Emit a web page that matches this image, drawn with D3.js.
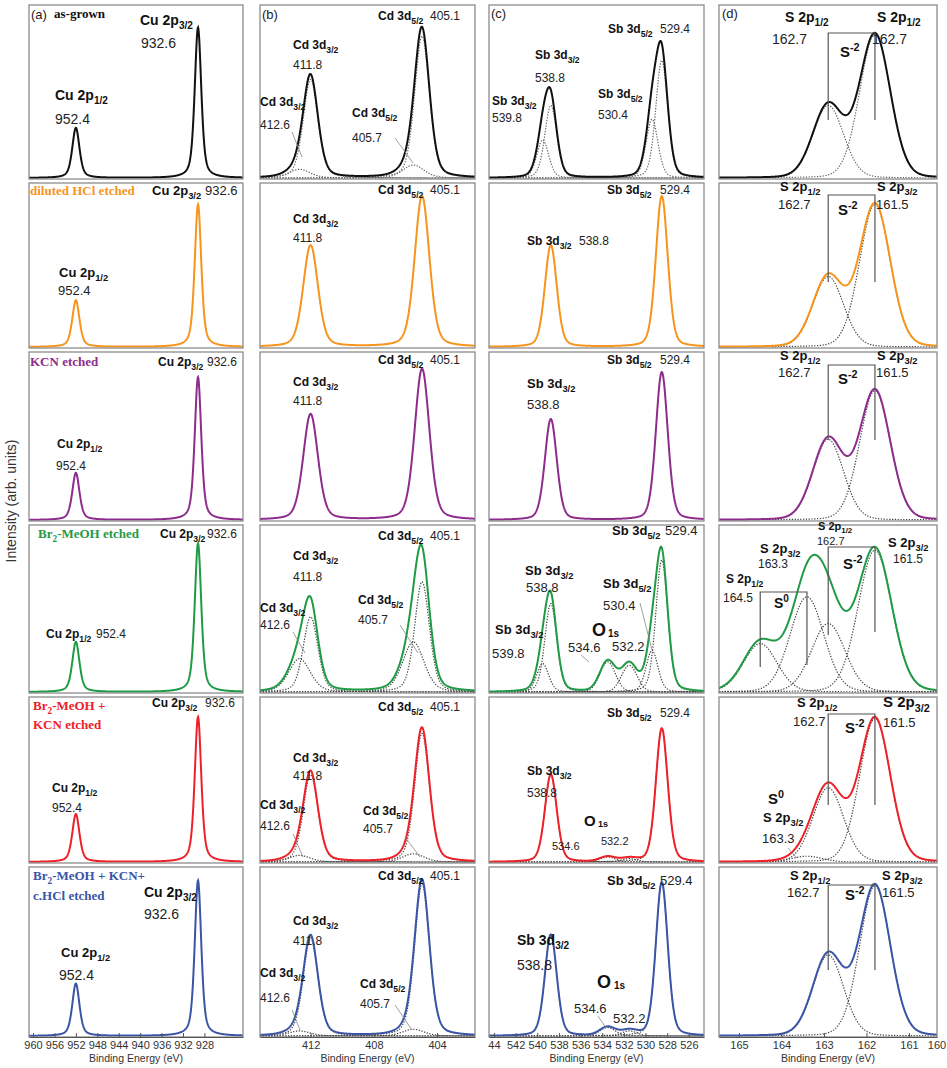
<!DOCTYPE html>
<html>
<head>
<meta charset="utf-8">
<script src="https://cdn.jsdelivr.net/npm/d3@7"></script>
<style>
  body { margin: 0; background: #fff; }
</style>
</head>
<body>
<script>
// treatments, one row each
var rowNames = ["as-grown", "diluted HCl etched", "KCN etched", "Br2-MeOH etched", "Br2-MeOH + KCN etched", "Br2-MeOH + KCN+ c.HCl etched"];
var rowColours = ["#111111", "#F7941D", "#8E2C8E", "#1F9A45", "#EE2028", "#3A55A6"];

// (a) Cu 2p : peak centres (eV, as read on the axis), FWHM, heights per row
var cuCentres = [952.0, 929.2];
var cuWidths = [1.6, 1.45];
var cu2p12 = [0.29, 0.285, 0.28, 0.30, 0.29, 0.31];
var cu2p32 = [0.87, 0.87, 0.85, 0.89, 0.88, 0.92];

// (b) Cd 3d : 411.8 / 412.6 / 405.1 / 405.7 components
var cdCentres = [412.0, 412.7, 404.95, 405.5];
var cdWidths = [1.1, 1.6, 1.1, 1.6];
var cd3d32 = [0.57, 0.62, 0.63, 0.45, 0.53, 0.58];
var cd3d32b = [0.05, 0, 0, 0.20, 0.04, 0.03];
var cd3d52 = [0.82, 0.92, 0.90, 0.66, 0.78, 0.90];
var cd3d52b = [0.075, 0, 0, 0.30, 0.05, 0.04];

// (c) Sb 3d + O 1s : 539.8 / 538.8 / 534.6 / 532.2 / 530.4 / 529.4 components
var sbCentres = [539.5, 538.75, 533.5, 531.5, 529.4, 528.5];
var sbWidths = [1.3, 1.3, 1.7, 1.7, 1.3, 1.3];
var sb3d32b = [0.22, 0, 0, 0.17, 0, 0];
var sb3d32 = [0.42, 0.62, 0.60, 0.53, 0.53, 0.60];
var o1sA = [0, 0, 0, 0.18, 0.03, 0.05];
var o1sB = [0, 0, 0, 0.16, 0.02, 0.03];
var sb3d52b = [0.34, 0, 0, 0.25, 0, 0];
var sb3d52 = [0.68, 0.92, 0.88, 0.79, 0.81, 0.91];

// (d) S 2p : S0 2p1/2, S0 2p3/2, S-2 2p1/2, S-2 2p3/2
var sCentres = [164.5, 163.4, 162.9, 161.8];
var sWidths = [0.85, 0.85, 0.85, 0.85];
var sRowWidth = [1.0, 1.0, 1.0, 1.1, 1.0, 1.0];
var s0p12 = [0, 0, 0, 0.29, 0, 0];
var s0p32 = [0, 0, 0, 0.57, 0.035, 0];
var s2p12 = [0.42, 0.43, 0.48, 0.41, 0.45, 0.48];
var s2p32 = [0.83, 0.87, 0.77, 0.85, 0.87, 0.89];

var columns = [
  { centres: cuCentres, widths: cuWidths, eta: [0.5, 0.5], heights: [cu2p12, cu2p32], fitRows: [0, 0, 0, 0, 0, 0] },
  { centres: cdCentres, widths: cdWidths, eta: [0.3, 0.3, 0.3, 0.3], heights: [cd3d32, cd3d32b, cd3d52, cd3d52b], fitRows: [1, 0, 0, 1, 1, 1] },
  { centres: sbCentres, widths: sbWidths, eta: [0.25, 0.25, 0.1, 0.1, 0.25, 0.25], heights: [sb3d32b, sb3d32, o1sA, o1sB, sb3d52b, sb3d52], fitRows: [1, 0, 0, 1, 1, 1] },
  { centres: sCentres, widths: sWidths, rowWidth: sRowWidth, eta: [0.1, 0.1, 0.1, 0.1], heights: [s0p12, s0p32, s2p12, s2p32], fitRows: [1, 1, 1, 1, 1, 1] }
];

// layout
var W = 947, H = 1068;
var colLeft = [29, 260, 489, 719], colWidth = [214, 215, 215, 218];
var rowTop = [5, 183, 352, 525, 697, 867], rowHeight = [174, 165, 169, 168, 166, 170];
var domains = [[960.75, 920.8], [415.2, 401.6], [544.46, 524.6], [165.47, 160.34]];
var tickVals = [d3.range(960, 927, -4), [412, 408, 404], d3.range(544, 525, -2), [165, 164, 163, 162, 161, 160]];

var sans = "'Liberation Sans', Arial, sans-serif";
var serif = "'Liberation Serif', 'Times New Roman', serif";

// annotations: [row, col, x, y, style, text]  (x,y in px inside panel)
var notes = [
  [0,0,2,14,"n13","(a)"], [0,0,25,13,"s13","as-grown"],
  [0,0,111,20,"b14","Cu 2p_{3/2}"], [0,0,112,43,"n14","932.6"],
  [0,0,26,95,"b14","Cu 2p_{1/2}"], [0,0,26,119,"n14","952.4"],
  [0,1,2,14,"n13","(b)"], [0,1,118,15,"b12","Cd 3d_{5/2}"], [0,1,170,15,"n12","405.1"],
  [0,1,33,44,"b12","Cd 3d_{3/2}"], [0,1,33,64,"n12","411.8"],
  [0,1,0,101,"b12","Cd 3d_{3/2}"], [0,1,0,124,"n12","412.6"],
  [0,1,92,112,"b12","Cd 3d_{5/2}"], [0,1,92,137,"n12","405.7"],
  [0,2,2,13,"n13","(c)"], [0,2,119,28,"b12","Sb 3d_{5/2}"], [0,2,171,28,"n12","529.4"],
  [0,2,46,54,"b12","Sb 3d_{3/2}"], [0,2,46,77,"n12","538.8"],
  [0,2,3,100,"b12","Sb 3d_{3/2}"], [0,2,3,117,"n12","539.8"],
  [0,2,109,93,"b12","Sb 3d_{5/2}"], [0,2,109,114,"n12","530.4"],
  [0,3,3,13,"n13","(d)"], [0,3,66,17,"b14","S 2p_{1/2}"], [0,3,53,39,"n14","162.7"],
  [0,3,158,17,"b14","S 2p_{1/2}"], [0,3,153,39,"n14","162.7"], [0,3,121,52,"b15","S^{-2}"],

  [1,0,1,12,"s13","diluted HCl etched"], [1,0,123,12,"b13","Cu 2p_{3/2}"], [1,0,176,12,"n13","932.6"],
  [1,0,30,94,"b13","Cu 2p_{1/2}"], [1,0,29,112,"n13","952.4"],
  [1,1,118,11,"b12","Cd 3d_{5/2}"], [1,1,170,11,"n12","405.1"],
  [1,1,33,40,"b12","Cd 3d_{3/2}"], [1,1,33,59,"n12","411.8"],
  [1,2,118,11,"b12","Sb 3d_{5/2}"], [1,2,171,11,"n12","529.4"],
  [1,2,38,62,"b12","Sb 3d_{3/2}"], [1,2,90,62,"n12","538.8"],
  [1,3,61,8,"b13","S 2p_{1/2}"], [1,3,59,26,"n13","162.7"],
  [1,3,158,8,"b13","S 2p_{3/2}"], [1,3,157,26,"n13","161.5"], [1,3,119,32,"b15","S^{-2}"],

  [2,0,1,14,"s13","KCN etched"], [2,0,129,14,"b12","Cu 2p_{3/2}"], [2,0,178,14,"n12","932.6"],
  [2,0,28,96,"b12","Cu 2p_{1/2}"], [2,0,27,118,"n12","952.4"],
  [2,1,118,12,"b12","Cd 3d_{5/2}"], [2,1,170,12,"n12","405.1"],
  [2,1,33,34,"b12","Cd 3d_{3/2}"], [2,1,33,53,"n12","411.8"],
  [2,2,118,12,"b12","Sb 3d_{5/2}"], [2,2,171,12,"n12","529.4"],
  [2,2,38,36,"b13","Sb 3d_{3/2}"], [2,2,38,57,"n13","538.8"],
  [2,3,61,8,"b13","S 2p_{1/2}"], [2,3,59,25,"n13","162.7"],
  [2,3,158,8,"b13","S 2p_{3/2}"], [2,3,157,25,"n13","161.5"], [2,3,119,32,"b15","S^{-2}"],

  [3,0,9,13,"s13","Br_{2}-MeOH etched"], [3,0,131,13,"b12","Cu 2p_{3/2}"], [3,0,178,13,"n12","932.6"],
  [3,0,17,113,"b12","Cu 2p_{1/2}"], [3,0,67,113,"n12","952.4"],
  [3,1,118,15,"b12","Cd 3d_{5/2}"], [3,1,170,15,"n12","405.1"],
  [3,1,33,35,"b12","Cd 3d_{3/2}"], [3,1,33,56,"n12","411.8"],
  [3,1,0,87,"b12","Cd 3d_{3/2}"], [3,1,0,104,"n12","412.6"],
  [3,1,98,79,"b12","Cd 3d_{5/2}"], [3,1,98,99,"n12","405.7"],
  [3,2,123,10,"b13","Sb 3d_{5/2}"], [3,2,176,10,"n13","529.4"],
  [3,2,36,50,"b13","Sb 3d_{3/2}"], [3,2,37,67,"n13","538.8"],
  [3,2,6,109,"b13","Sb 3d_{3/2}"], [3,2,3,133,"n13","539.8"],
  [3,2,114,63,"b13","Sb 3d_{5/2}"], [3,2,114,85,"n13","530.4"],
  [3,2,103,111,"b18","O"], [3,2,119,112,"b10","1s"],
  [3,2,79,127,"n13","534.6"], [3,2,123,126,"n13","532.2"],
  [3,3,99,5,"b11","S 2p_{1/2}"], [3,3,98,20,"n11","162.7"],
  [3,3,41,28,"b13","S 2p_{3/2}"], [3,3,39,43,"n12","163.3"],
  [3,3,169,22,"b13","S 2p_{3/2}"], [3,3,174,38,"n12","161.5"], [3,3,124,44,"b15","S^{-2}"],
  [3,3,7,58,"b12","S 2p_{1/2}"], [3,3,4,77,"n12","164.5"], [3,3,55,83,"b14","S^{0}"],

  [4,0,4,13,"s13","Br_{2}-MeOH +"], [4,0,4,32,"s13","KCN etched"],
  [4,0,123,10,"b12","Cu 2p_{3/2}"], [4,0,176,10,"n12","932.6"],
  [4,0,23,95,"b12","Cu 2p_{1/2}"], [4,0,23,115,"n12","952.4"],
  [4,1,118,14,"b12","Cd 3d_{5/2}"], [4,1,170,14,"n12","405.1"],
  [4,1,33,65,"b12","Cd 3d_{3/2}"], [4,1,33,83,"n12","411.8"],
  [4,1,0,112,"b12","Cd 3d_{3/2}"], [4,1,0,133,"n12","412.6"],
  [4,1,103,118,"b12","Cd 3d_{5/2}"], [4,1,103,136,"n12","405.7"],
  [4,2,118,20,"b12","Sb 3d_{5/2}"], [4,2,171,20,"n12","529.4"],
  [4,2,38,78,"b12","Sb 3d_{3/2}"], [4,2,38,100,"n12","538.8"],
  [4,2,95,129,"b15","O"], [4,2,109,130,"b9","1s"],
  [4,2,63,153,"n11","534.6"], [4,2,112,148,"n11","532.2"],
  [4,3,78,10,"b13","S 2p_{1/2}"], [4,3,74,29,"n13","162.7"],
  [4,3,164,10,"b15","S 2p_{3/2}"], [4,3,164,30,"n13","161.5"], [4,3,126,36,"b15","S^{-2}"],
  [4,3,49,107,"b15","S^{0}"], [4,3,44,125,"b13","S 2p_{3/2}"], [4,3,43,146,"n13","163.3"],

  [5,0,4,13,"s13","Br_{2}-MeOH + KCN+"], [5,0,4,33,"s13","c.HCl etched"],
  [5,0,115,30,"b14","Cu 2p_{3/2}"], [5,0,115,52,"n14","932.6"],
  [5,0,32,90,"b13","Cu 2p_{1/2}"], [5,0,30,113,"n14","952.4"],
  [5,1,118,13,"b12","Cd 3d_{5/2}"], [5,1,170,13,"n12","405.1"],
  [5,1,33,58,"b12","Cd 3d_{3/2}"], [5,1,33,78,"n12","411.8"],
  [5,1,0,110,"b12","Cd 3d_{3/2}"], [5,1,0,135,"n12","412.6"],
  [5,1,100,121,"b12","Cd 3d_{5/2}"], [5,1,100,141,"n12","405.7"],
  [5,2,118,18,"b13","Sb 3d_{5/2}"], [5,2,171,18,"n13","529.4"],
  [5,2,28,78,"b14","Sb 3d_{3/2}"], [5,2,28,103,"n14","538.8"],
  [5,2,108,121,"b18","O"], [5,2,125,122,"b10","1s"],
  [5,2,85,146,"n13","534.6"], [5,2,124,156,"n13","532.2"],
  [5,3,71,13,"b13","S 2p_{1/2}"], [5,3,68,30,"n13","162.7"],
  [5,3,163,13,"b13","S 2p_{3/2}"], [5,3,163,30,"n13","161.5"], [5,3,126,33,"b15","S^{-2}"]
];

// leader lines: [row, col, x1, y1, x2, y2]
var leaders = [
  [0,1,32,127,42,152], [0,1,135,133,153,158],
  [3,1,33,107,45,128], [3,1,140,100,158,128], [3,2,151,78,163,125], [3,2,92,130,100,137],
  [4,1,33,137,43,160], [4,1,145,140,160,160], [4,3,69,151,78,161],
  [5,1,32,143,40,163], [5,1,135,138,152,163], [5,2,109,149,117,161]
];

// S 2p brackets: [row, compA, compB, top, bottomA, bottomB]
var brackets = [
  [0,2,3,28,115,115], [1,2,3,12,99,99], [2,2,3,13,88,88],
  [3,2,3,22,110,107], [3,0,1,67,142,140],
  [4,2,3,17,108,108], [5,2,3,18,103,103]
];

function profile(e, p) {
  var u = (e - p.c) / p.w;
  return p.h * ((1 - p.eta) * Math.exp(-4 * Math.LN2 * u * u) + p.eta / (1 + 4 * u * u));
}

function richText(sel, str, size) {
  var parts = str.split(/(_\{[^}]*\}|\^\{[^}]*\})/).filter(function(s) { return s.length; });
  var shift = 0;
  parts.forEach(function(p) {
    var target = 0, fs = size;
    if (p.indexOf("_{") === 0) { target = size * 0.3; fs = size * 0.72; p = p.slice(2, -1); }
    else if (p.indexOf("^{") === 0) { target = -size * 0.4; fs = size * 0.72; p = p.slice(2, -1); }
    sel.append("tspan").attr("dy", target - shift).attr("font-size", fs).text(p);
    shift = target;
  });
}

var svg = d3.select("body").append("svg")
    .attr("width", W)
    .attr("height", H)
    .style("font-family", sans);

var panels = {};

columns.forEach(function(col, ci) {
  var x = d3.scaleLinear().domain(domains[ci]).range([0, colWidth[ci]]);
  var d0 = domains[ci][0], d1 = domains[ci][1];
  var xs = d3.range(0, 601).map(function(i) { return d0 + (d1 - d0) * i / 600; });

  rowNames.forEach(function(name, ri) {
    var h = rowHeight[ri];
    var y = d3.scaleLinear().domain([0, 1]).range([h - 1, 0]);
    var line = d3.line().x(function(d) { return x(d[0]); }).y(function(d) { return y(d[1]); });
    var g = svg.append("g").attr("transform", "translate(" + colLeft[ci] + "," + rowTop[ri] + ")");
    panels[ri + "_" + ci] = { g: g, x: x, y: y };

    var clipId = "clip" + ri + "_" + ci;
    g.append("clipPath").attr("id", clipId)
      .append("rect").attr("width", colWidth[ci]).attr("height", h);

    var comps = col.centres.map(function(c, k) {
      return { c: c, w: col.widths[k] * (col.rowWidth ? col.rowWidth[ri] : 1), eta: col.eta[k], h: col.heights[k][ri] };
    });

    var plot = g.append("g").attr("clip-path", "url(#" + clipId + ")");

    if (col.fitRows[ri]) {
      comps.filter(function(p) { return p.h > 0; }).forEach(function(p) {
        plot.append("path")
          .datum(xs.map(function(e) { return [e, profile(e, p)]; }))
          .attr("d", line)
          .attr("fill", "none")
          .attr("stroke", ri === 0 ? "#666" : "#444")
          .attr("stroke-width", 1.2)
          .attr("stroke-dasharray", "1.3,1.5");
      });
    }

    plot.append("path")
      .datum(xs.map(function(e) { return [e, d3.sum(comps, function(p) { return profile(e, p); })]; }))
      .attr("d", line)
      .attr("fill", "none")
      .attr("stroke", rowColours[ri])
      .attr("stroke-width", 2);

    g.append("rect")
      .attr("width", colWidth[ci])
      .attr("height", h)
      .attr("fill", "none")
      .attr("stroke", "#8c8c8c")
      .attr("stroke-width", 1.3);

    if (ri === rowNames.length - 1) {
      var axis = d3.axisBottom(x)
        .tickValues(tickVals[ci])
        .tickSizeInner(-4)
        .tickSizeOuter(0)
        .tickPadding(4)
        .tickFormat(function(d) { return d === 544 ? "44" : d; });
      var ag = g.append("g").attr("transform", "translate(0," + h + ")").call(axis);
      ag.select(".domain").attr("stroke", "#555");
      ag.selectAll(".tick line").attr("stroke", "#555");
      ag.selectAll(".tick text").attr("fill", "#333").attr("font-size", 11).attr("font-family", sans);
      ag.selectAll(".tick").filter(function(d) { return x(d) > colWidth[ci]; })
        .attr("transform", "translate(" + colWidth[ci] + ",0)")
        .select("line").remove();
      g.append("text")
        .attr("x", colWidth[ci] / 2)
        .attr("y", h + 25)
        .attr("text-anchor", "middle")
        .attr("font-size", 10.5)
        .attr("fill", "#333")
        .text("Binding Energy (eV)");
    }
  });
});

// S 2p brackets
brackets.forEach(function(b) {
  var p = panels[b[0] + "_3"];
  var xa = p.x(sCentres[b[1]]), xb = p.x(sCentres[b[2]]);
  p.g.append("path")
    .attr("d", "M" + xa + "," + b[4] + "V" + b[3] + "H" + xb + "V" + b[5])
    .attr("fill", "none")
    .attr("stroke", "#555")
    .attr("stroke-width", 1.2);
});

leaders.forEach(function(l) {
  panels[l[0] + "_" + l[1]].g.append("line")
    .attr("x1", l[2]).attr("y1", l[3]).attr("x2", l[4]).attr("y2", l[5])
    .attr("stroke", "#888")
    .attr("stroke-width", 0.8);
});

notes.forEach(function(n) {
  var p = panels[n[0] + "_" + n[1]];
  var kind = n[4][0], size = +n[4].slice(1);
  var t = p.g.append("text")
    .attr("x", n[2])
    .attr("y", n[3])
    .attr("font-size", size)
    .attr("font-weight", kind === "n" ? "normal" : "bold")
    .attr("font-family", kind === "s" ? serif : sans)
    .attr("fill", kind === "s" ? rowColours[n[0]] : (kind === "n" ? "#222" : "#111"));
  richText(t, n[5], size);
});

svg.append("text")
  .attr("transform", "translate(16,501) rotate(-90)")
  .attr("text-anchor", "middle")
  .attr("font-size", 14)
  .attr("fill", "#333")
  .text("Intensity (arb. units)");
</script>
</body>
</html>
